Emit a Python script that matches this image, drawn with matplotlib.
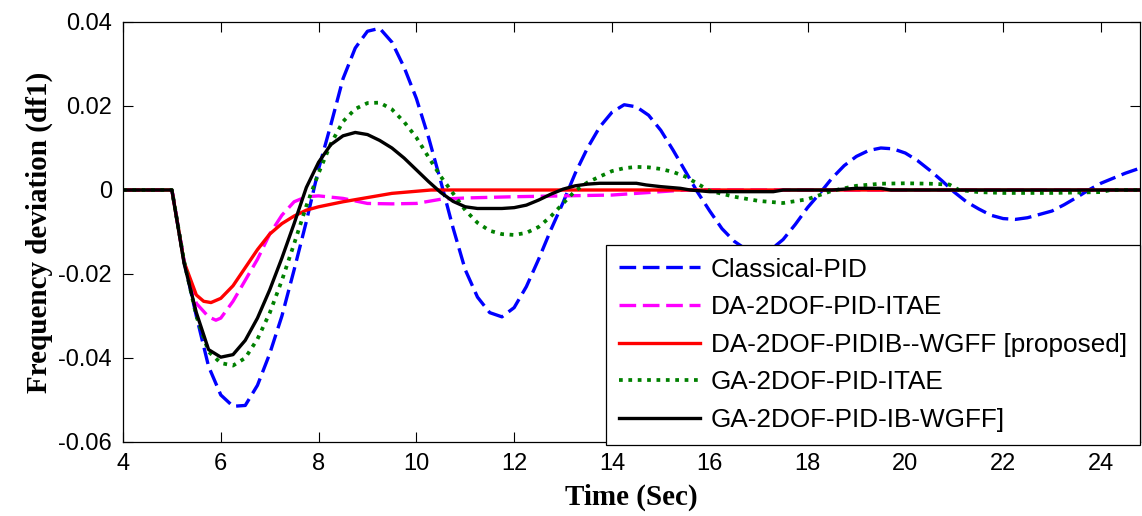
import numpy as np
import matplotlib
matplotlib.use("Agg")
import matplotlib.pyplot as plt

# ---------------- data ----------------
labels = ["Classical-PID", "DA-2DOF-PID-ITAE", "DA-2DOF-PIDIB--WGFF [proposed]",
          "GA-2DOF-PID-ITAE", "GA-2DOF-PID-IB-WGFF]"]

blue_t = [4.0] + list(np.round(np.arange(5.0, 24.51, 0.25), 2)) + [24.8]
blue_y = [0.0,
          0.0, -0.0170, -0.0300, -0.0420, -0.0488, -0.0515, -0.0513, -0.0465,
          -0.0390, -0.0300, -0.0190, -0.0075, 0.0050, 0.0155, 0.0265, 0.0338,
          0.0378, 0.0385, 0.0352, 0.0292, 0.0218, 0.0125, 0.0020, -0.0090,
          -0.0190, -0.0255, -0.0292, -0.0302, -0.0280, -0.0230, -0.0165, -0.0095,
          -0.0030, 0.0040, 0.0100, 0.0150, 0.0185, 0.0203, 0.0198, 0.0178,
          0.0142, 0.0095, 0.0045, -0.0005, -0.0050, -0.0092, -0.0122, -0.0142,
          -0.0150, -0.0142, -0.0118, -0.0082, -0.0042, -0.0008, 0.0028, 0.0058,
          0.0080, 0.0094, 0.0100, 0.0098, 0.0088, 0.0070, 0.0047, 0.0022,
          -0.0005, -0.0028, -0.0045, -0.0060, -0.0068, -0.0070, -0.0066, -0.0058,
          -0.0050, -0.0035, -0.0018, 0.0000, 0.0016, 0.0028, 0.0040,
          0.0052]

magenta_t = [4.0, 5.0, 5.25, 5.5, 5.75, 5.9, 6.0, 6.25, 6.5, 6.75, 7.0, 7.25, 7.5,
             7.75, 8.0, 8.5, 9.0, 9.5, 10.0, 10.5, 11.0, 12.0, 13.0, 14.0, 14.5,
             15.0, 15.5, 24.8]
magenta_y = [0.0, 0.0, -0.0172, -0.0270, -0.0302, -0.0310, -0.0305, -0.0265,
             -0.0215, -0.0165, -0.0105, -0.0060, -0.0028, -0.0016, -0.0014,
             -0.0020, -0.0032, -0.0033, -0.0032, -0.0022, -0.0019, -0.0016,
             -0.0014, -0.0012, -0.0008, -0.0004, 0.0, 0.0]

red_t = [4.0, 5.0, 5.25, 5.5, 5.65, 5.8, 6.0, 6.25, 6.5, 6.75, 7.0, 7.25, 7.5, 7.75,
         8.0, 8.5, 9.0, 9.5, 10.0, 10.3, 24.8]
red_y = [0.0, 0.0, -0.0172, -0.0250, -0.0265, -0.0268, -0.0258, -0.0228, -0.0185,
         -0.0142, -0.0105, -0.0080, -0.0062, -0.0048, -0.0040, -0.0028, -0.0018,
         -0.0008, -0.0003, 0.0, 0.0]

green_t = ([4.0] + list(np.round(np.arange(5.0, 16.01, 0.25), 2)) +
           [16.5, 17.0, 17.5, 18.0, 18.5, 19.0, 19.5, 20.0, 20.5, 20.9, 21.1,
            21.5, 22.0, 23.0, 24.0, 24.2, 24.8])
green_y = [0.0,
           0.0, -0.0170, -0.0300, -0.0385, -0.0412, -0.0418, -0.0400, -0.0355,
           -0.0293, -0.0215, -0.0128, -0.0038, 0.0040, 0.0110, 0.0163, 0.0193,
           0.0207, 0.0208, 0.0192, 0.0162, 0.0125, 0.0078, 0.0032, -0.0008,
           -0.0048, -0.0078, -0.0097, -0.0105, -0.0107, -0.0102, -0.0088, -0.0063,
           -0.0032, -0.0002, 0.0018, 0.0032, 0.0045, 0.0052, 0.0055, 0.0054,
           0.0050, 0.0043, 0.0032, 0.0015, -0.0002,
           -0.0016, -0.0026, -0.0031, -0.0022, -0.0002, 0.0010, 0.0015, 0.0016,
           0.0015, 0.0013, 0.0, -0.0005, -0.0007, -0.0007, -0.0005, 0.0, 0.0]

black_t = ([4.0] + list(np.round(np.arange(5.0, 13.01, 0.25), 2)) +
           [13.25, 13.5, 13.75, 14.0, 14.5, 14.7, 15.0, 15.4, 15.6, 16.0, 17.3,
            17.5, 18.5, 19.0, 19.5, 19.7, 24.8])
black_y = [0.0,
           0.0, -0.0175, -0.0292, -0.0380, -0.0398, -0.0392, -0.0358, -0.0305,
           -0.0238, -0.0162, -0.0080, 0.0006, 0.0066, 0.0108, 0.0129, 0.0137,
           0.0132, 0.0118, 0.0100, 0.0076, 0.0048, 0.0020, -0.0006, -0.0027,
           -0.0040, -0.0044, -0.0044, -0.0044, -0.0042, -0.0036, -0.0024, -0.0010,
           0.0002,
           0.0010, 0.0014, 0.0016, 0.0016, 0.0016, 0.0012, 0.0008, 0.0004, 0.0,
           -0.0004, -0.0004, 0.0, 0.0, 0.0004, 0.0004, 0.0, 0.0]

x_ticks = [4, 6, 8, 10, 12, 14, 16, 18, 20, 22, 24]
y_ticks = [-0.06, -0.04, -0.02, 0, 0.02, 0.04]
y_ticklabels = ["-0.06", "-0.04", "-0.02", "0", "0.02", "0.04"]

# ---------------- plot ----------------
plt.rcParams['font.family'] = ['Liberation Sans', 'DejaVu Sans']

fig = plt.figure(figsize=(11.42, 5.16), dpi=100)
ax = fig.add_axes([123 / 1142, 74 / 516, 1017 / 1142, 420 / 516])

ax.plot(blue_t, blue_y, color='#0000FF', lw=2.4, linestyle=(0, (5, 2)), label=labels[0])
ax.plot(magenta_t, magenta_y, color='#FF00FF', lw=2.4, linestyle=(0, (5, 2)), label=labels[1])
ax.plot(red_t, red_y, color='#FF0000', lw=2.4, label=labels[2])
ax.plot(green_t, green_y, color='#008000', lw=2.7, linestyle=(0, (1, 1.5)), label=labels[3])
ax.plot(black_t, black_y, color='black', lw=2.4, label=labels[4])

ax.set_xlim(4, 24.8)
ax.set_ylim(-0.06, 0.04)
ax.set_xticks(x_ticks)
ax.set_xticklabels([str(v) for v in x_ticks])
ax.set_yticks(y_ticks)
ax.set_yticklabels(y_ticklabels)
ax.tick_params(direction='in', length=7, width=0.8, labelsize=17, pad=8,
               top=True, right=True)
for s in ax.spines.values():
    s.set_linewidth(0.9)

ax.set_xlabel("Time (Sec)", family=['Liberation Serif', 'DejaVu Serif'],
              fontweight='bold', fontsize=21, labelpad=6)
ax.set_ylabel("Frequency deviation (df1)", family=['Liberation Serif', 'DejaVu Serif'],
              fontweight='bold', fontsize=21, labelpad=4)

leg = ax.legend(loc='lower right', bbox_to_anchor=(1.0, -0.007), borderaxespad=0,
                fontsize=18.8, frameon=True, fancybox=False, edgecolor='black',
                framealpha=1, handlelength=3.1, handletextpad=0.4,
                labelspacing=0.52, borderpad=0.5)
leg.get_frame().set_linewidth(0.9)

fig.savefig("out.png", dpi=100)
